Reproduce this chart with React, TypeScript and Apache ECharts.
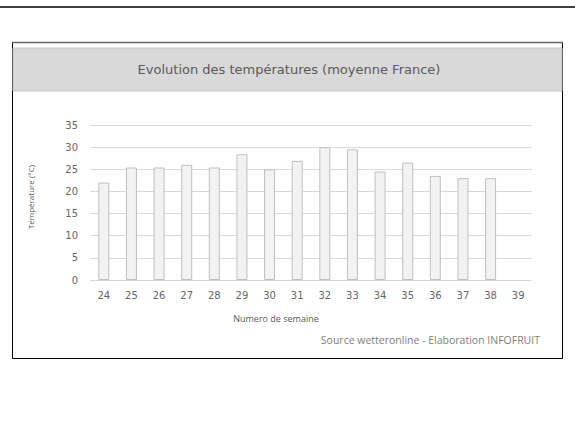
import React, { useEffect, useRef } from "react";
import * as echarts from "echarts";

const weeks = ["24", "25", "26", "27", "28", "29", "30", "31", "32", "33", "34", "35", "36", "37", "38", "39"];
const temperatures: (number | null)[] = [22, 25.4, 25.4, 26, 25.4, 28.4, 25, 26.9, 30, 29.5, 24.5, 26.5, 23.5, 23, 23, null];
const yTicks = { min: 0, max: 35, interval: 5 };
const titleText = "Evolution des températures (moyenne France)";
const yName = "Température (°C)";
const xName = "Numero de semaine";
const sourceText = "Source wetteronline - Elaboration INFOFRUIT";

export default function App() {
  const ref = useRef<HTMLDivElement>(null);
  useEffect(() => {
    document.body.style.margin = "0";
    const chart = echarts.init(ref.current!, null, { renderer: "svg" });
    chart.setOption({
      animation: false,
      backgroundColor: "#ffffff",
      grid: { left: 90, right: 43, top: 125, bottom: 155 },
      xAxis: {
        type: "category",
        data: weeks,
        axisLine: { lineStyle: { color: "#d9d9d9" } },
        axisTick: { show: false },
        axisLabel: { color: "#666666", fontSize: 10, fontFamily: "DejaVu Sans", margin: 10 },
      },
      yAxis: {
        type: "value",
        min: yTicks.min,
        max: yTicks.max,
        interval: yTicks.interval,
        axisLine: { show: false },
        axisTick: { show: false },
        splitLine: { lineStyle: { color: "#d9d9d9" } },
        axisLabel: { color: "#666666", fontSize: 10, fontFamily: "DejaVu Sans", margin: 12 },
      },
      series: [
        {
          type: "bar",
          data: temperatures,
          barWidth: 11,
          itemStyle: { color: "#f2f2f2", borderColor: "#bfbfbf", borderWidth: 1 },
        },
      ],
      graphic: [
        { type: "line", shape: { x1: 0, y1: 7, x2: 575, y2: 7 }, style: { stroke: "#000", lineWidth: 1.5 } },
        { type: "rect", shape: { x: 12.5, y: 42.5, width: 550, height: 316 }, style: { fill: "none", stroke: "#000", lineWidth: 1 }, z: -1 },
        { type: "line", shape: { x1: 12, y1: 42.5, x2: 563, y2: 42.5 }, style: { stroke: "#666", lineWidth: 1.5 } },
        { type: "rect", shape: { x: 13, y: 48, width: 549, height: 43 }, style: { fill: "#d9d9d9", stroke: "#c6c6c6", lineWidth: 1 } },
        {
          type: "text",
          x: 289,
          y: 69,
          style: { text: titleText, fill: "#595959", fontSize: 13, fontFamily: "DejaVu Sans", textAlign: "center", textVerticalAlign: "middle" },
        },
        {
          type: "text",
          x: 30,
          y: 197,
          rotation: Math.PI / 2,
          style: { text: yName, fill: "#595959", fontSize: 8, fontFamily: "Open Sans", textAlign: "center", textVerticalAlign: "middle" },
        },
        {
          type: "text",
          x: 276,
          y: 318,
          style: { text: xName, fill: "#595959", fontSize: 9, fontFamily: "Open Sans", textAlign: "center", textVerticalAlign: "middle" },
        },
        {
          type: "text",
          x: 540,
          y: 340,
          style: { text: sourceText, fill: "#808080", fontSize: 10.5, fontFamily: "Open Sans", textAlign: "right", textVerticalAlign: "middle" },
        },
      ],
    });
    return () => chart.dispose();
  }, []);
  return <div ref={ref} style={{ width: 575, height: 435 }} />;
}
